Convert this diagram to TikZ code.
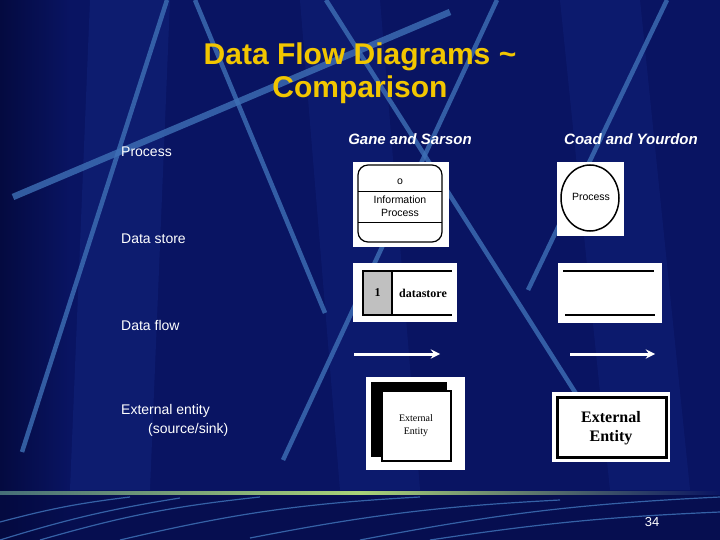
\documentclass[tikz,border=0pt]{standalone}
\usepackage{fontspec}
\setmainfont{Liberation Serif}
\setsansfont{Liberation Sans}
\usetikzlibrary{positioning}

\definecolor{slidebg}{RGB}{9,20,98}
\definecolor{bgdark}{RGB}{4,10,64}
\definecolor{bandblue}{RGB}{20,40,132}
\definecolor{stripeblue}{RGB}{62,112,182}
\definecolor{titleyel}{RGB}{242,198,0}
\definecolor{footgreen}{RGB}{170,210,120}
\definecolor{footteal}{RGB}{70,110,120}
\definecolor{storegray}{RGB}{192,192,192}

\begin{document}
\begin{tikzpicture}[x=1pt, y=-1pt, >=stealth,
    lbl/.style={text=white, font=\sffamily\fontsize{14}{16}\selectfont, anchor=west, inner sep=0pt},
    colhead/.style={text=white, font=\sffamily\bfseries\itshape\fontsize{15}{17}\selectfont, inner sep=0pt},
    titletxt/.style={font=\sffamily\bfseries\fontsize{30}{32}\selectfont, inner sep=0pt, text=titleyel},
    paper/.style={fill=white, draw=none},
    flow/.style={->, white, line width=3pt},
    stripe/.style={line width=4.5pt, draw=stripeblue, opacity=0.8},
    swish/.style={line width=1.2pt, draw=stripeblue, opacity=0.85}]

    % Sfondo
    \useasboundingbox (0,0) rectangle (720,540);
    \fill[slidebg] (0,0) rectangle (720,540);
    \fill[left color=bgdark, right color=slidebg] (0,0) rectangle (70,540);
    \fill[bandblue, opacity=0.4] (90,0) -- (170,0) -- (150,490) -- (70,490) -- cycle;
    \fill[bandblue, opacity=0.35] (300,0) -- (380,0) -- (420,490) -- (340,490) -- cycle;
    \fill[bandblue, opacity=0.35] (560,0) -- (640,0) -- (690,490) -- (610,490) -- cycle;
    \fill[bgdark, opacity=0.5] (0,495) rectangle (720,540);

    % Strisce
    \draw[stripe] (167,0) -- (22,452);
    \draw[stripe] (195,0) -- (325,313);
    \draw[stripe, line width=6.5pt] (13,197) -- (450,12);
    \draw[stripe] (326,0) -- (580,400);
    \draw[stripe] (497,0) -- (283,460);
    \draw[stripe] (667,0) -- (528,290);

    % Linea verde e svolazzi
    \shade[left color=footteal, right color=slidebg, middle color=footgreen] (0,491.5) rectangle (720,494.5);
    \draw[swish] (0,522) to[bend left=4] (130,497);
    \draw[swish] (0,540) to[bend left=4] (180,498);
    \draw[swish] (40,540) to[bend left=5] (260,497);
    \draw[swish] (120,540) to[bend left=5] (420,497);
    \draw[swish] (250,538) to[bend left=4] (560,500);
    \draw[swish] (360,540) to[bend left=4] (720,497);
    \draw[swish] (430,540) to[bend left=3] (720,512);

    % Titolo
    \node[titletxt] (title1) at (360,57) {Data Flow Diagrams \textasciitilde};
    \node[titletxt] (title2) at (360,90) {Comparison};

    % Etichette righe
    \node[lbl] (lproc) at (121,152) {Process};
    \node[lbl] (lstore) at (121,239) {Data store};
    \node[lbl] (lflow) at (121,325) {Data flow};
    \node[lbl] (lext) at (121,411) {External entity};
    \node[lbl] (lsink) at (148,430) {(source/sink)};

    % Intestazioni colonne
    \node[colhead] (hgs) at (410,139) {Gane and Sarson};
    \node[colhead] (hcy) at (631,139) {Coad and Yourdon};

    % Processo Gane-Sarson
    \fill[paper] (353,162) rectangle (449,247);
    \draw[line width=1.2pt, rounded corners=10pt] (358,165) rectangle (442,242);
    \draw[line width=0.8pt] (358,191) -- (442,191);
    \draw[line width=0.8pt] (358,222) -- (442,222);
    \node[font=\sffamily\fontsize{10.5}{11}\selectfont] (gsnum) at (400,182) {o};
    \node[font=\sffamily\fontsize{10.5}{13}\selectfont, align=center] (gsproc) at (400,206) {Information\\Process};

    % Processo Coad-Yourdon
    \fill[paper] (557,162) rectangle (624,236);
    \draw[line width=1.5pt] (590,198) ellipse [x radius=29, y radius=33];
    \node[font=\sffamily\fontsize{10.5}{11}\selectfont] (cyproc) at (591,197) {Process};

    % Archivio Gane-Sarson
    \fill[paper] (353,263) rectangle (457,322);
    \draw[line width=1.5pt, fill=storegray] (363,271) rectangle (392,315);
    \draw[line width=1.5pt] (392,271) -- (452,271);
    \draw[line width=1.5pt] (392,315) -- (452,315);
    \node[font=\bfseries\fontsize{12}{13}\selectfont] (gsid) at (377.5,293) {1};
    \node[font=\bfseries\fontsize{12}{13}\selectfont] (gsstore) at (423,293) {datastore};

    % Archivio Coad-Yourdon
    \fill[paper] (558,263) rectangle (662,323);
    \draw[line width=1.8pt] (563,271) -- (654,271);
    \draw[line width=1.8pt] (565,315) -- (655,315);

    % Flussi
    \coordinate (gsa) at (354,354);
    \coordinate (gsb) at (440,354);
    \coordinate (cya) at (570,354);
    \coordinate (cyb) at (655,354);
    \draw[flow] (gsa) -- (gsb);
    \draw[flow] (cya) -- (cyb);

    % Entita esterna Gane-Sarson
    \fill[paper] (366,377) rectangle (465,470);
    \fill[black] (371,382) rectangle (447,457);
    \draw[line width=1.2pt, fill=white] (382,391) rectangle (451,461);
    \node[font=\fontsize{10}{13}\selectfont, align=center] (gsext) at (416,426) {External\\Entity};

    % Entita esterna Coad-Yourdon
    \fill[paper] (552,392) rectangle (670,462);
    \draw[line width=3pt] (557,397) rectangle (666,457);
    \node[font=\bfseries\fontsize{16}{19}\selectfont, align=center] (cyext) at (611,428) {External\\Entity};

    % Numero pagina
    \node[text=white, font=\sffamily\fontsize{13}{14}\selectfont] (pgnum) at (652,522) {34};
\end{tikzpicture}
\end{document}
